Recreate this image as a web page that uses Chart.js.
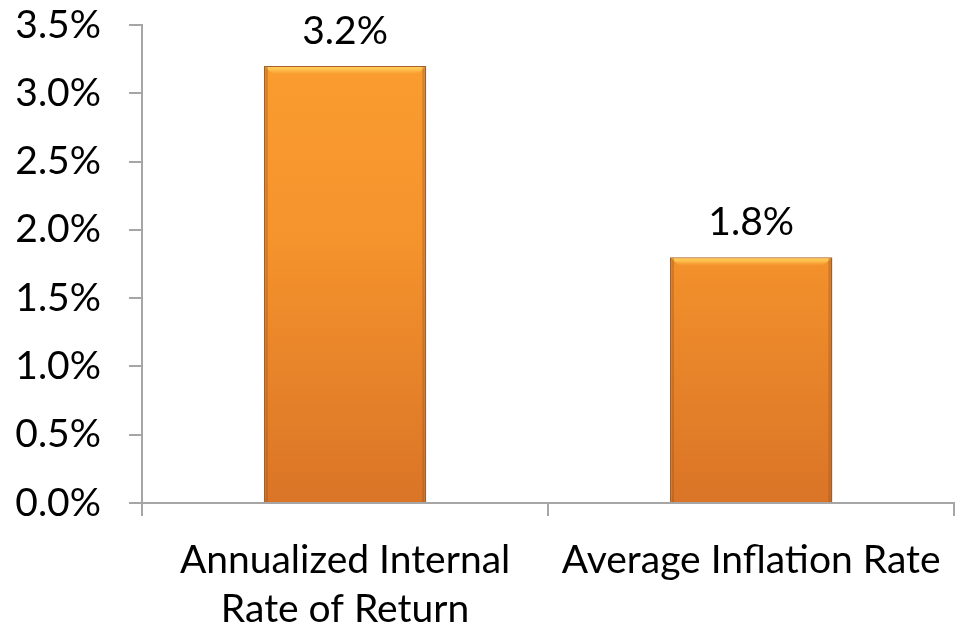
<!DOCTYPE html>
<html>
<head>
<meta charset="utf-8">
<script src="https://cdn.jsdelivr.net/npm/chart.js@4/dist/chart.umd.min.js"></script>
<style>
  html, body { margin: 0; padding: 0; background: #fff; }
  #wrap { width: 961px; height: 626px; }
</style>
</head>
<body>
<div id="wrap"><canvas id="c" width="961" height="626"></canvas></div>
<script>
const categories = [["Annualized Internal", "Rate of Return"], "Average Inflation Rate"];
const rates = [3.2, 1.8];
const yTicks = [0, 0.5, 1.0, 1.5, 2.0, 2.5, 3.0, 3.5];

const FONT = "Lato, 'Open Sans', sans-serif";
const FSIZE = 39;

function barGradient(ctx) {
  const chart = ctx.chart;
  const area = chart.chartArea;
  if (!area) return '#F7962E';
  const g = chart.ctx.createLinearGradient(0, area.top, 0, area.bottom);
  g.addColorStop(0, '#FB9E31');
  g.addColorStop(0.45, '#F5932C');
  g.addColorStop(1, '#DA7427');
  return g;
}

// Bevel highlight along the top of each bar and value labels above
const barDecor = {
  id: 'barDecor',
  afterDatasetsDraw(chart) {
    const c = chart.ctx;
    const meta = chart.getDatasetMeta(0);
    meta.data.forEach((bar, i) => {
      const half = bar.width / 2;
      const l = bar.x - half, r = bar.x + half, t = bar.y;
      const b = 9;
      c.save();
      const hg = c.createLinearGradient(0, t, 0, t + b);
      hg.addColorStop(0, '#FFD35E');
      hg.addColorStop(0.5, '#FDBB4A');
      hg.addColorStop(1, 'rgba(250,160,50,0)');
      c.fillStyle = hg;
      c.beginPath();
      c.moveTo(l + 1, t + 1);
      c.lineTo(r - 1, t + 1);
      c.lineTo(r - 1 - b, t + b);
      c.lineTo(l + 1 + b, t + b);
      c.closePath();
      c.fill();
      // darker side edges
      c.fillStyle = 'rgba(150,80,20,0.35)';
      c.fillRect(l + 1, t + 1, 3, bar.base - t - 1);
      c.fillRect(r - 4, t + 1, 3, bar.base - t - 1);
      c.restore();

      c.save();
      c.fillStyle = '#000';
      c.font = FSIZE + 'px ' + FONT;
      c.textAlign = 'center';
      c.textBaseline = 'alphabetic';
      c.fillText(rates[i].toFixed(1) + '%', bar.x, t - 22);
      c.restore();
    });
  }
};

new Chart(document.getElementById('c'), {
  type: 'bar',
  data: {
    labels: categories,
    datasets: [{
      data: rates,
      backgroundColor: barGradient,
      borderColor: '#A8602A',
      borderWidth: 1.5,
      barPercentage: 0.4,
      categoryPercentage: 1.0
    }]
  },
  options: {
    responsive: false,
    animation: false,
    layout: { padding: { top: 25, right: 6, left: 0, bottom: 0 } },
    plugins: { legend: { display: false }, tooltip: { enabled: false } },
    scales: {
      x: {
        offset: true,
        grid: { display: true, offset: true, drawOnChartArea: false, drawTicks: true, tickLength: 13, color: '#A6A6A6', lineWidth: 2 },
        border: { display: true, color: '#A6A6A6', width: 2 },
        ticks: { color: '#000', font: { family: FONT, size: FSIZE, lineHeight: 1.28 }, padding: 19, maxRotation: 0, autoSkip: false },
        afterFit(s) { s.height = 123; }
      },
      y: {
        min: 0, max: 3.5,
        afterBuildTicks(s) { s.ticks = yTicks.map(v => ({ value: v })); },
        grid: { display: true, drawOnChartArea: false, drawTicks: true, tickLength: 13, color: '#A6A6A6', lineWidth: 2 },
        border: { display: true, color: '#A6A6A6', width: 2 },
        ticks: { color: '#000', font: { family: FONT, size: FSIZE, lineHeight: 0.2 }, padding: 28, callback: v => v.toFixed(1) + '%' },
        afterFit(s) { s.width = 142; s.paddingTop = 0; s.paddingBottom = 0; }
      }
    }
  },
  plugins: [barDecor]
});
</script>
</body>
</html>
